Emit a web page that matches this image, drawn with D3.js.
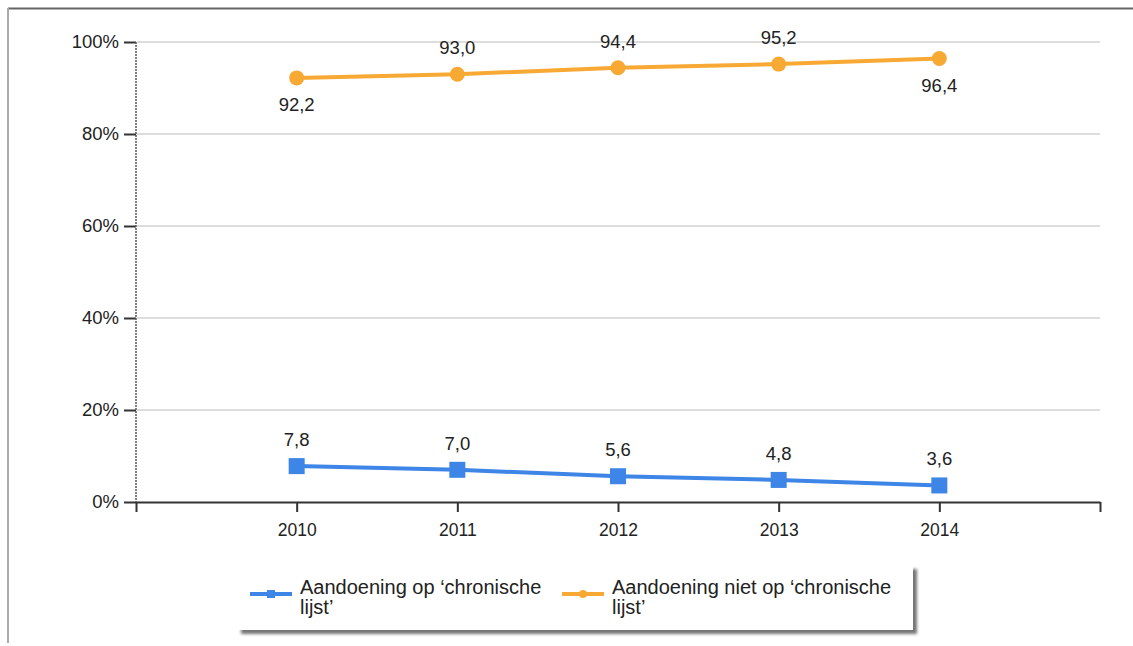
<!DOCTYPE html>
<html>
<head>
<meta charset="utf-8">
<script src="https://cdn.jsdelivr.net/npm/d3@7"></script>
<style>
	body { margin: 0; background: #fff; }
	svg text { font-family: "Liberation Sans", Arial, sans-serif; fill: #222; }
</style>
</head>
<body>
<div class="container"></div>
<script>
var years = [2010, 2011, 2012, 2013, 2014];
var chronisch = [7.8, 7.0, 5.6, 4.8, 3.6];
var nietChronisch = [92.2, 93.0, 94.4, 95.2, 96.4];
var yTicks = [0, 20, 40, 60, 80, 100];
var legendLabels = [
	['Aandoening op \u2018chronische', 'lijst\u2019'],
	['Aandoening niet op \u2018chronische', 'lijst\u2019']
];
// label position per point: above or below
var nietLabelPos = ['below', 'above', 'above', 'above', 'below'];

var width = 1133,
	height = 646;

var svg = d3.select('.container')
	.append('svg')
	.attr('width', width)
	.attr('height', height);

var defs = svg.append('defs');
var shadow = defs.append('filter')
	.attr('id', 'shadow')
	.attr('x', '-5%').attr('y', '-20%')
	.attr('width', '115%').attr('height', '160%');
shadow.append('feDropShadow')
	.attr('dx', 4).attr('dy', 4)
	.attr('stdDeviation', 1.5)
	.attr('flood-color', '#555')
	.attr('flood-opacity', 0.8);

// outer frame
svg.append('line')
	.attr('x1', 8).attr('x2', width).attr('y1', 8.5).attr('y2', 8.5)
	.style('stroke', '#666').style('stroke-width', 2);
svg.append('line')
	.attr('x1', 8).attr('x2', 8).attr('y1', 8).attr('y2', 643)
	.style('stroke', '#aaa').style('stroke-width', 2);

var x = d3.scaleLinear().domain([2009, 2015]).range([136, 1100]);
var y = d3.scaleLinear().domain([0, 100]).range([502, 42]);

// grid
svg.append('g')
	.selectAll('line')
	.data(yTicks.filter(function (d) { return d > 0; }))
	.enter().append('line')
	.attr('x1', 137).attr('x2', 1100)
	.attr('y1', function (d) { return y(d); })
	.attr('y2', function (d) { return y(d); })
	.style('stroke', '#ddd').style('stroke-width', 2);

// y axis
var yAxis = svg.append('g')
	.attr('transform', 'translate(136,0)')
	.call(d3.axisLeft(y).tickValues(yTicks).tickSize(12).tickPadding(5)
		.tickFormat(function (d) { return d + '%'; }));
yAxis.select('.domain').remove();
yAxis.selectAll('.tick line').style('stroke', '#333').style('stroke-width', 2);
yAxis.selectAll('.tick text').style('font-size', '18.5px').style('fill', '#222');
svg.append('line')
	.attr('x1', 136).attr('x2', 136).attr('y1', y(100)).attr('y2', y(0))
	.style('stroke', '#555').style('stroke-width', 1.5)
	.style('stroke-dasharray', '2,1');

// x axis
var xAxis = svg.append('g')
	.attr('transform', 'translate(0,' + y(0) + ')')
	.call(d3.axisBottom(x).tickValues(d3.range(2009, 2016)).tickSize(10).tickSizeOuter(0).tickPadding(12)
		.tickFormat(function (d) { return years.indexOf(d) >= 0 ? d : ''; }));
xAxis.select('.domain').style('stroke', '#333').style('stroke-width', 2);
xAxis.selectAll('.tick line').style('stroke', '#333').style('stroke-width', 2);
xAxis.selectAll('.tick text').style('font-size', '17.5px').style('fill', '#222');

var line = d3.line()
	.x(function (d, i) { return x(years[i]); })
	.y(function (d) { return y(d); });

var fmt = function (v) { return v.toFixed(1).replace('.', ','); };

// orange series
var orange = '#f7a934';
svg.append('path')
	.datum(nietChronisch)
	.attr('d', line)
	.style('fill', 'none').style('stroke', orange).style('stroke-width', 4);
svg.append('g').selectAll('circle')
	.data(nietChronisch)
	.enter().append('circle')
	.attr('cx', function (d, i) { return x(years[i]); })
	.attr('cy', function (d) { return y(d); })
	.attr('r', 7.5)
	.style('fill', orange);
svg.append('g').selectAll('text')
	.data(nietChronisch)
	.enter().append('text')
	.attr('x', function (d, i) { return x(years[i]); })
	.attr('y', function (d, i) { return y(d) + (nietLabelPos[i] === 'below' ? 33 : -20); })
	.attr('text-anchor', 'middle')
	.style('font-size', '18.5px')
	.text(fmt);

// blue series
var blue = '#3d85e6';
svg.append('path')
	.datum(chronisch)
	.attr('d', line)
	.style('fill', 'none').style('stroke', blue).style('stroke-width', 4);
svg.append('g').selectAll('rect')
	.data(chronisch)
	.enter().append('rect')
	.attr('x', function (d, i) { return x(years[i]) - 8; })
	.attr('y', function (d) { return y(d) - 8; })
	.attr('width', 16).attr('height', 16)
	.style('fill', blue);
svg.append('g').selectAll('text')
	.data(chronisch)
	.enter().append('text')
	.attr('x', function (d, i) { return x(years[i]); })
	.attr('y', function (d) { return y(d) - 20; })
	.attr('text-anchor', 'middle')
	.style('font-size', '18.5px')
	.text(fmt);

// legend
var legend = svg.append('g');
legend.append('rect')
	.attr('x', 237).attr('y', 565)
	.attr('width', 676).attr('height', 65)
	.style('fill', '#fff')
	.style('filter', 'url(#shadow)');

var legendColors = [blue, orange];
var legendX = [250, 562];
legendLabels.forEach(function (lines, i) {
	var g = legend.append('g').attr('transform', 'translate(' + legendX[i] + ',0)');
	g.append('line')
		.attr('x1', 0).attr('x2', 42).attr('y1', 594).attr('y2', 594)
		.style('stroke', legendColors[i]).style('stroke-width', 4);
	if (i === 0) {
		g.append('rect').attr('x', 17).attr('y', 590).attr('width', 8).attr('height', 8)
			.style('fill', legendColors[i]);
	} else {
		g.append('circle').attr('cx', 21).attr('cy', 594).attr('r', 4)
			.style('fill', legendColors[i]);
	}
	g.append('text')
		.attr('x', 50).attr('y', 594)
		.style('font-size', '20px')
		.selectAll('tspan')
		.data(lines)
		.enter().append('tspan')
		.attr('x', 50)
		.attr('dy', function (d, j) { return j === 0 ? 0 : 20; })
		.text(function (d) { return d; });
});
</script>
</body>
</html>
